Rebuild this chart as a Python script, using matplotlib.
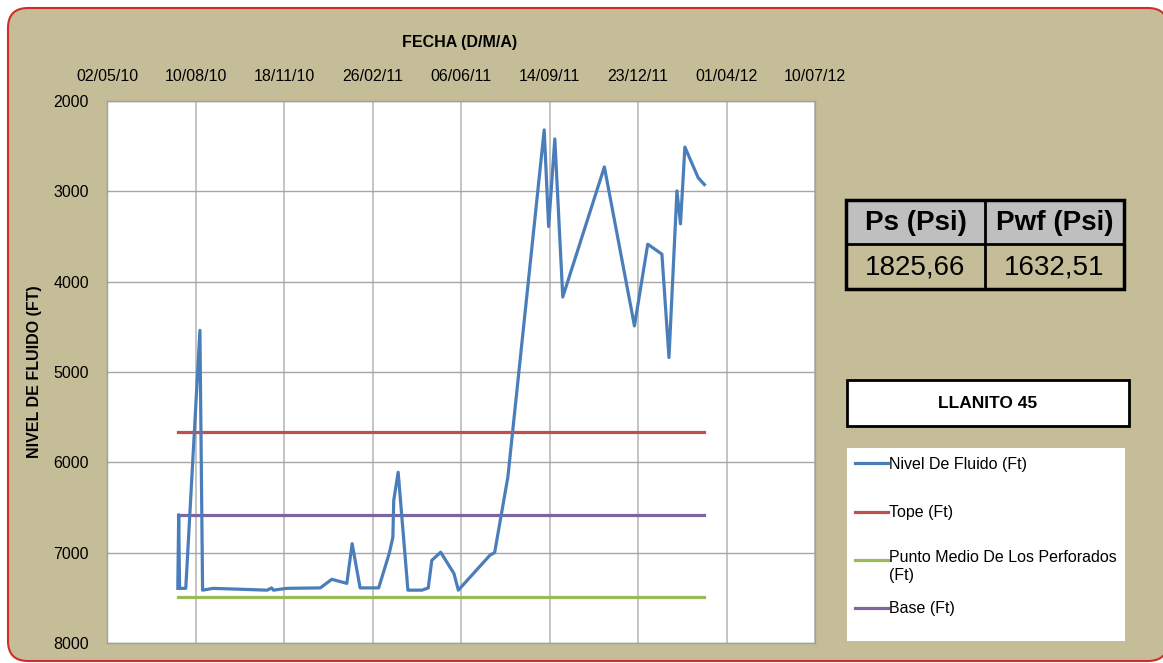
import numpy as np
import matplotlib
matplotlib.use('Agg')
import matplotlib.pyplot as plt
import matplotlib.dates as mdates
from matplotlib.patches import Rectangle, FancyBboxPatch
from matplotlib.lines import Line2D

plt.rcParams['font.family'] = ['Liberation Sans', 'DejaVu Sans']

# fluid level survey, well LLANITO 45
fechas = ['2010-07-21', '2010-07-22', '2010-07-23', '2010-07-30', '2010-08-15',
          '2010-08-18', '2010-08-30', '2010-10-30', '2010-11-04', '2010-11-06',
          '2010-11-21', '2010-12-29', '2011-01-11', '2011-01-28', '2011-02-03',
          '2011-02-12', '2011-03-05', '2011-03-17', '2011-03-21', '2011-03-22',
          '2011-03-27', '2011-04-07', '2011-04-23', '2011-04-30', '2011-05-04',
          '2011-05-14', '2011-05-29', '2011-06-03', '2011-07-09', '2011-07-14',
          '2011-07-29', '2011-09-08', '2011-09-13', '2011-09-20', '2011-09-29',
          '2011-11-15', '2011-12-19', '2012-01-03', '2012-01-19', '2012-01-27',
          '2012-02-05', '2012-02-09', '2012-02-14', '2012-02-29', '2012-03-07']
nivel = [7395, 6580, 7395, 7395, 4540,
         7415, 7395, 7415, 7390, 7415,
         7395, 7390, 7295, 7340, 6900,
         7390, 7390, 7005, 6830, 6420,
         6110, 7415, 7415, 7390, 7085,
         6995, 7230, 7415, 7025, 7000,
         6160, 2320, 3390, 2420, 4170,
         2730, 4490, 3585, 3695, 4840,
         2995, 3360, 2510, 2850, 2925]

tope = 5660
punto_medio = 7490
base = 6580

ps = '1825,66'
pwf = '1632,51'
pozo = 'LLANITO 45'

tick_fechas = ['2010-05-02', '2010-08-10', '2010-11-18', '2011-02-26', '2011-06-06',
               '2011-09-14', '2011-12-23', '2012-04-01', '2012-07-10']

labels = ['Nivel De Fluido (Ft)', 'Tope (Ft)', 'Punto Medio De Los Perforados\n(Ft)', 'Base (Ft)']
colores = ['#4A7EBB', '#C0504D', '#9BBB59', '#8064A2']

W, H = 1163, 663
fig = plt.figure(figsize=(W / 100, H / 100), dpi=100)
fig.patch.set_facecolor('white')


def fx(x):
    return x / W


def fy(y):
    return 1 - y / H


# tan background with red rounded frame
marco = FancyBboxPatch((8 / 100, 2 / 100), (1168 - 8) / 100, (661 - 8) / 100,
                       boxstyle='round,pad=0,rounding_size=0.2',
                       transform=fig.dpi_scale_trans, facecolor='#C4BD97',
                       edgecolor='#D42A2A', linewidth=1.5, zorder=-5)
fig.patches.append(marco)

ax = fig.add_axes([fx(107), fy(643), fx(815) - fx(107), fy(101) - fy(643)])
ax.set_zorder(2)
ax.set_facecolor('white')

x = np.array(fechas, dtype='datetime64[D]')
ext = np.array([fechas[0], fechas[-1]], dtype='datetime64[D]')

ax.plot(x, nivel, color=colores[0], lw=2.3, zorder=5)
ax.plot(ext, [tope, tope], color=colores[1], lw=2.3, zorder=4)
ax.plot(ext, [punto_medio, punto_medio], color=colores[2], lw=2.3, zorder=4)
ax.plot(ext, [base, base], color=colores[3], lw=2.3, zorder=4)

ticks = np.array(tick_fechas, dtype='datetime64[D]')
ax.set_xlim(ticks[0], ticks[-1])
ax.set_xticks(ticks)
ax.xaxis.set_major_formatter(mdates.DateFormatter('%d/%m/%y'))
ax.xaxis.tick_top()
ax.set_ylim(8000, 2000)
ax.set_yticks(np.arange(2000, 8001, 1000))
ax.tick_params(length=0, labelsize=11.5, pad=12)
ax.tick_params(axis='y', pad=13)
ax.grid(axis='y', color='#A6A6A6', lw=1)
ax.grid(axis='x', color='#BFBFBF', lw=1.3)
for s in ax.spines.values():
    s.set_color('#A0A0A0')
    s.set_linewidth(1)

fig.text(fx(460), fy(43), 'FECHA (D/M/A)', ha='center', va='center', fontsize=11.5, fontweight='bold')
fig.text(fx(35), fy(372), 'NIVEL DE FLUIDO (FT)', ha='center', va='center', rotation=90,
         fontsize=11.5, fontweight='bold')

# pressure table
x0, x1, x2 = 846, 985, 1124
y0, y1, y2 = 200, 244, 289
fig.patches.append(Rectangle((fx(x0), fy(y1)), fx(x2) - fx(x0), fy(y0) - fy(y1),
                             transform=fig.transFigure, facecolor='#BFBFBF', edgecolor='none'))
fig.patches.append(Rectangle((fx(x0), fy(y2)), fx(x2) - fx(x0), fy(y0) - fy(y2),
                             transform=fig.transFigure, facecolor='none', edgecolor='black', lw=2.5))
fig.add_artist(Line2D([fx(x0), fx(x2)], [fy(y1), fy(y1)], color='black', lw=2))
fig.add_artist(Line2D([fx(x1), fx(x1)], [fy(y0), fy(y2)], color='black', lw=2))
fig.text(fx((x0 + x1) / 2), fy((y0 + y1) / 2 + 1), 'Ps (Psi)', ha='center', va='center',
         fontsize=20, fontweight='bold')
fig.text(fx((x1 + x2) / 2), fy((y0 + y1) / 2 + 1), 'Pwf (Psi)', ha='center', va='center',
         fontsize=20, fontweight='bold')
fig.text(fx((x0 + x1) / 2), fy((y1 + y2) / 2 + 1), ps, ha='center', va='center', fontsize=20)
fig.text(fx((x1 + x2) / 2), fy((y1 + y2) / 2 + 1), pwf, ha='center', va='center', fontsize=20)

# well name box
fig.patches.append(Rectangle((fx(847), fy(426)), fx(1129) - fx(847), fy(380) - fy(426),
                             transform=fig.transFigure, facecolor='white', edgecolor='black', lw=2))
fig.text(fx(988), fy(404), pozo, ha='center', va='center', fontsize=12.5, fontweight='bold')

# legend
fig.patches.append(Rectangle((fx(847), fy(641)), fx(1125) - fx(847), fy(448) - fy(641),
                             transform=fig.transFigure, facecolor='white', edgecolor='none'))
ly = [463, 512, 560, 608]
for lab, c, yy in zip(labels, colores, ly):
    fig.add_artist(Line2D([fx(855), fx(888)], [fy(yy), fy(yy)], color=c, lw=2.3))
    if '\n' in lab:
        fig.text(fx(889), fy(yy - 10), lab, ha='left', va='top', fontsize=11.5, linespacing=1.25)
    else:
        fig.text(fx(889), fy(yy + 1), lab, ha='left', va='center', fontsize=11.5)

fig.savefig('out.png', dpi=100, facecolor=fig.get_facecolor())
